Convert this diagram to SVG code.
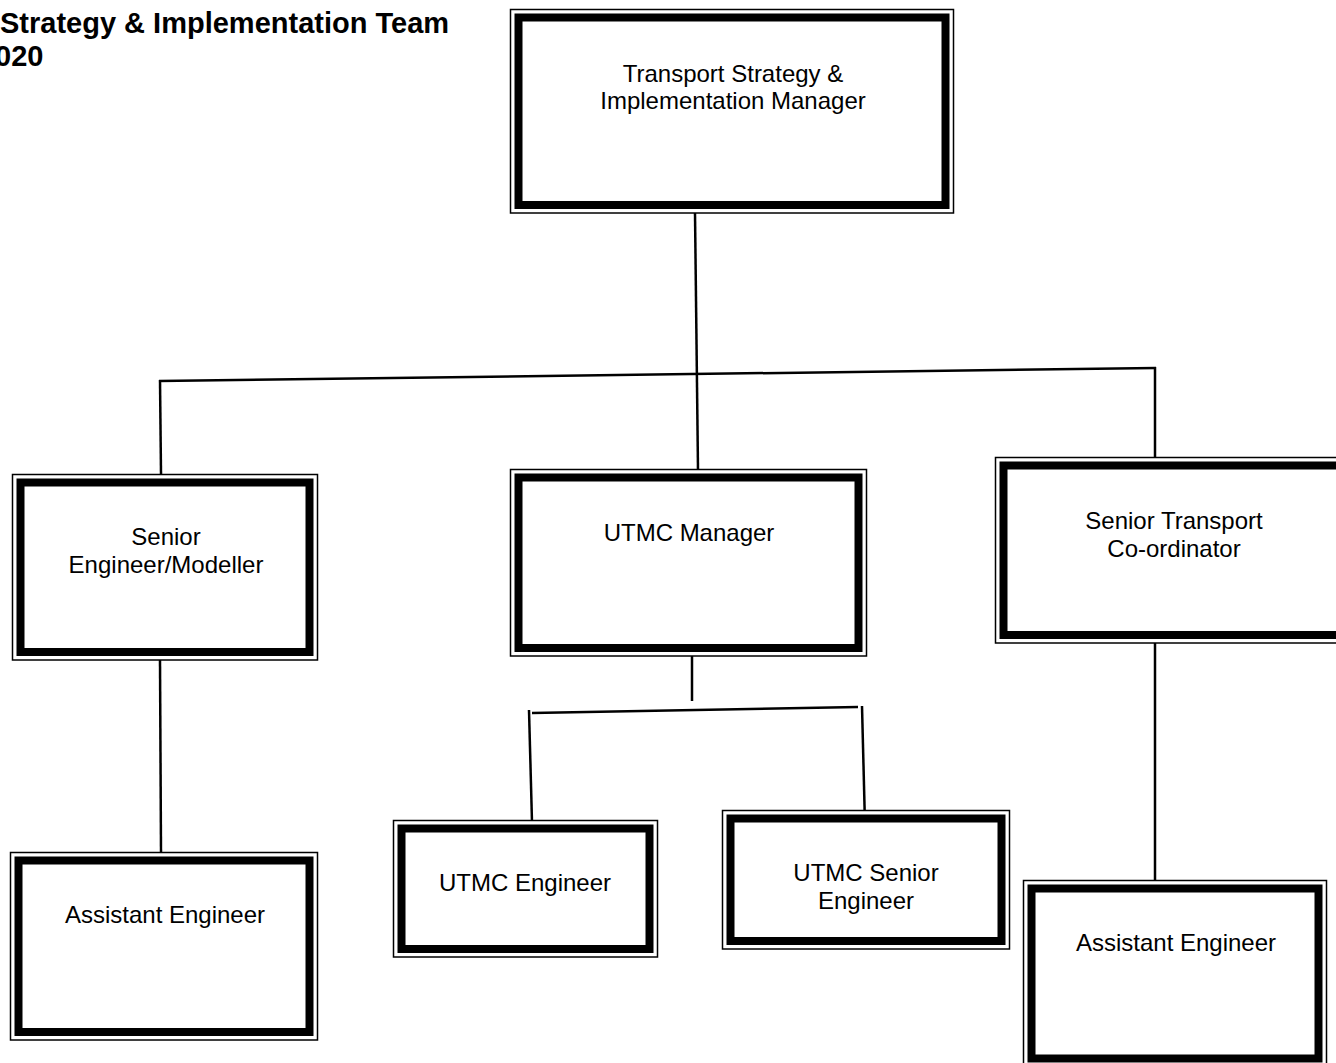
<svg xmlns="http://www.w3.org/2000/svg" width="1336" height="1063" viewBox="0 0 1336 1063">
<style>
.outer{fill:#fff;stroke:#000;stroke-width:1.5}
.inner{fill:none;stroke:#000;stroke-width:8}
.lbl{font-family:"Liberation Sans",Arial,sans-serif;font-size:24px;fill:#000;text-anchor:middle}
.title{font-family:"Liberation Sans",Arial,sans-serif;font-size:29px;font-weight:bold;fill:#000}
.conn line{stroke:#000;stroke-width:2.5;stroke-linecap:butt}
</style>
<rect width="1336" height="1063" fill="#fff"/>
<g id="title">
<text class="title" x="0" y="33">Strategy &amp; Implementation Team</text>
<text class="title" x="-5" y="66">020</text>
</g>
<g id="connectors" class="conn">
<line x1="695" y1="213" x2="698" y2="470"/>
<line x1="159" y1="381" x2="1156" y2="368"/>
<line x1="160" y1="380" x2="161" y2="474"/>
<line x1="1155" y1="367" x2="1155" y2="458"/>
<line x1="160" y1="660" x2="161" y2="852"/>
<line x1="1155" y1="643" x2="1155" y2="880"/>
<line x1="692" y1="656" x2="692" y2="701"/>
<line x1="532" y1="713" x2="858" y2="707"/>
<line x1="529" y1="710" x2="532" y2="822"/>
<line x1="862" y1="706" x2="865" y2="825"/>
</g>
<g id="node-manager">
<rect class="outer" x="510.5" y="9.5" width="443" height="203.5"/>
<rect class="inner" x="518.5" y="17.5" width="427" height="187.5"/>
<text class="lbl" x="733" y="82">Transport Strategy &amp;</text>
<text class="lbl" x="733" y="109">Implementation Manager</text>
</g>
<g id="node-senior-engineer">
<rect class="outer" x="12.5" y="474.5" width="305" height="185.5"/>
<rect class="inner" x="20.5" y="482.5" width="289" height="169.5"/>
<text class="lbl" x="166" y="545">Senior</text>
<text class="lbl" x="166" y="573">Engineer/Modeller</text>
</g>
<g id="node-utmc-manager">
<rect class="outer" x="510.5" y="469.5" width="356" height="186.5"/>
<rect class="inner" x="518.5" y="477.5" width="340" height="170.5"/>
<text class="lbl" x="689" y="541">UTMC Manager</text>
</g>
<g id="node-senior-transport">
<rect class="outer" x="995.5" y="457.5" width="358" height="185.5"/>
<rect class="inner" x="1003.5" y="465.5" width="342" height="169.5"/>
<text class="lbl" x="1174" y="529">Senior Transport</text>
<text class="lbl" x="1174" y="557">Co-ordinator</text>
</g>
<g id="node-assistant-left">
<rect class="outer" x="10.5" y="852.5" width="307" height="187.5"/>
<rect class="inner" x="18.5" y="860.5" width="291" height="171.5"/>
<text class="lbl" x="165" y="923">Assistant Engineer</text>
</g>
<g id="node-utmc-engineer">
<rect class="outer" x="393.5" y="820.5" width="264" height="136.5"/>
<rect class="inner" x="401.5" y="828.5" width="248" height="120.5"/>
<text class="lbl" x="525" y="891">UTMC Engineer</text>
</g>
<g id="node-utmc-senior">
<rect class="outer" x="722.5" y="810.5" width="287" height="138.5"/>
<rect class="inner" x="730.5" y="818.5" width="271" height="122.5"/>
<text class="lbl" x="866" y="881">UTMC Senior</text>
<text class="lbl" x="866" y="909">Engineer</text>
</g>
<g id="node-assistant-right">
<rect class="outer" x="1023.5" y="880.5" width="303" height="186"/>
<rect class="inner" x="1031.5" y="888.5" width="287" height="170"/>
<text class="lbl" x="1176" y="951">Assistant Engineer</text>
</g>
</svg>
